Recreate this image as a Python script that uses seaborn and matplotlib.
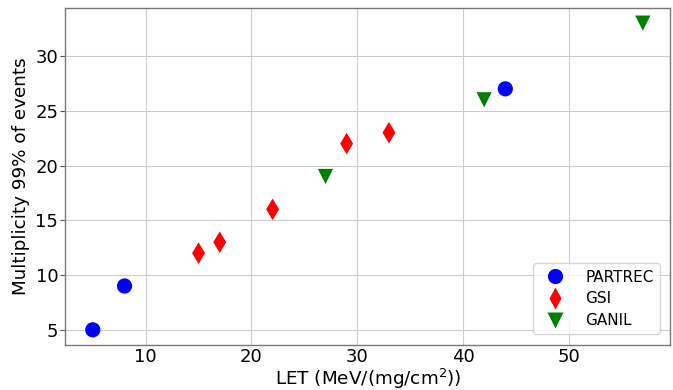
import pandas as pd
import seaborn as sns
import matplotlib.pyplot as plt

# data
partrec_let = [5, 8, 44]
partrec_mult = [5, 9, 27]
gsi_let = [15, 17, 22, 29, 33]
gsi_mult = [12, 13, 16, 22, 23]
ganil_let = [27, 42, 57]
ganil_mult = [19, 26, 33]

df = pd.concat([
    pd.DataFrame({'LET': partrec_let, 'Mult': partrec_mult, 'Facility': 'PARTREC'}),
    pd.DataFrame({'LET': gsi_let, 'Mult': gsi_mult, 'Facility': 'GSI'}),
    pd.DataFrame({'LET': ganil_let, 'Mult': ganil_mult, 'Facility': 'GANIL'}),
])

sns.set_style('whitegrid')
plt.rcParams['font.family'] = ['DejaVu Sans']

fig, ax = plt.subplots(figsize=(6.73, 3.9), dpi=100)
fig.subplots_adjust(left=0.097, right=0.996, top=0.98, bottom=0.115)

sns.scatterplot(
    data=df, x='LET', y='Mult',
    hue='Facility', style='Facility',
    palette={'PARTREC': 'blue', 'GSI': 'red', 'GANIL': 'green'},
    markers={'PARTREC': 'o', 'GSI': 'd', 'GANIL': 'v'},
    s=120, edgecolor='none', ax=ax
)

ax.set_xlabel('LET (MeV/(mg/cm$^2$))', fontsize=13.2, color='black', labelpad=1)
ax.set_ylabel('Multiplicity 99% of events', fontsize=13.2, color='black', labelpad=4)
ax.tick_params(axis='x', labelsize=13, length=0, pad=2, labelcolor='black')
ax.tick_params(axis='y', labelsize=13, length=3.5, pad=1.5, color='#555555',
               labelcolor='black', left=True)
ax.grid(color='#cccccc', linewidth=0.8)
for sp in ax.spines.values():
    sp.set_color('#777777')
    sp.set_linewidth(1.0)

ax.legend(loc='lower right', fontsize=11, title=None, handletextpad=1.0,
          borderpad=0.4, labelspacing=0.45, borderaxespad=0.7,
          labelcolor='black')

fig.savefig('out.png', dpi=100)
